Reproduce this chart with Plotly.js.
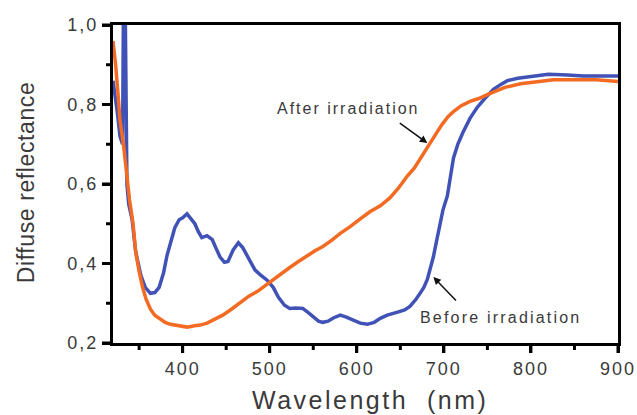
<!DOCTYPE html>
<html>
<head>
<meta charset="utf-8">
<script src="https://cdn.plot.ly/plotly-3.0.1.min.js"></script>
<style>
html,body{margin:0;padding:0;background:#fff;}
#wrap{position:relative;width:637px;height:415px;}
#chart{width:637px;height:415px;}
#frame{position:absolute;left:0;top:0;width:637px;height:415px;pointer-events:none;}
#chart .xtick text,#chart .ytick text{letter-spacing:2px;}
#chart .js-line{stroke-width:3.5px !important;}
</style>
</head>
<body>
<div id="wrap"><div id="chart"></div><svg id="frame" xmlns="http://www.w3.org/2000/svg" width="637" height="415"></svg></div>
<script>
// Before irradiation (blue)
var beforeX = [320,322,325,328,331,332,334,336,338,342,346,352,357,363,368,373,378,382,386,391,396,400,405,410,414,418,422,428,434,438,443,448,452,458,464,469,474,479,483,490,497,504,510,517,523,530,538,545,550,556,561,567,573,581,588,596,604,612,620,627,635,646,655,661,668,673,677,681,685,688,691,694,699,704,708,711,716,722,730,738,747,757,765,773,785,803,820,842,860,880,900];
var beforeY = [0.86,0.83,0.78,0.72,0.70,1.05,1.05,0.60,0.55,0.51,0.43,0.37,0.34,0.325,0.327,0.34,0.376,0.42,0.45,0.49,0.51,0.515,0.525,0.51,0.50,0.48,0.465,0.47,0.46,0.44,0.416,0.403,0.405,0.434,0.452,0.44,0.42,0.40,0.384,0.37,0.358,0.34,0.315,0.295,0.287,0.288,0.287,0.275,0.265,0.255,0.252,0.255,0.263,0.27,0.265,0.258,0.25,0.247,0.252,0.262,0.27,0.277,0.283,0.292,0.31,0.326,0.34,0.36,0.39,0.417,0.45,0.48,0.535,0.57,0.62,0.665,0.70,0.73,0.765,0.792,0.815,0.838,0.85,0.86,0.866,0.872,0.876,0.874,0.872,0.872,0.872];
// After irradiation (orange)
var afterX = [320,323,326,328,332,336,339,343,346,350,354,358,363,368,374,380,386,393,400,405,412,420,428,436,446,456,466,476,486,495,504,514,523,533,543,552,561,571,581,592,604,615,627,638,648,658,666,673,680,686,692,698,705,711,720,730,740,750,760,770,788,805,826,850,875,900];
var afterY = [0.96,0.90,0.82,0.76,0.70,0.62,0.56,0.50,0.43,0.38,0.34,0.31,0.285,0.27,0.26,0.252,0.247,0.244,0.242,0.24,0.243,0.245,0.25,0.258,0.27,0.285,0.302,0.318,0.33,0.345,0.36,0.377,0.39,0.405,0.42,0.432,0.443,0.458,0.476,0.492,0.512,0.53,0.545,0.565,0.59,0.62,0.64,0.665,0.69,0.71,0.73,0.75,0.77,0.782,0.797,0.808,0.815,0.825,0.835,0.843,0.852,0.856,0.862,0.862,0.862,0.858];

var xTickVals = [400,500,600,700,800,900];
var xTickText = ['400','500','600','700','800','900'];
var xMinorVals = [350,450,550,650,750,850];
var yTickVals = [0.2,0.4,0.6,0.8,1.0];
var yTickText = ['0,2','0,4','0,6','0,8','1,0'];
var yMinorVals = [0.3,0.5,0.7,0.9];

var xTitle = 'Wavelength  (nm)';
var yTitle = 'Diffuse reflectance';
var labelAfter = 'After irradiation';
var labelBefore = 'Before irradiation';

function spaced(t, px){ return '<span style="letter-spacing:' + px + 'px">' + t.replace(/  /g,'&nbsp; ') + '</span>'; }

var textColor = '#3a3a3a';
var font = 'Liberation Sans, Arial, sans-serif';

var traces = [
  {x: beforeX, y: beforeY, mode: 'lines', name: labelBefore},
  {x: afterX, y: afterY, mode: 'lines', name: labelAfter}
];

var layout = {
  width: 637, height: 415,
  margin: {l: 113, r: 19, t: 25, b: 72},
  showlegend: false,
  colorway: ['#4152B6', '#F36A22'],
  font: {family: font, size: 18, color: textColor},
  xaxis: {
    range: [320, 900], tickvals: xTickVals, ticktext: xTickText,
    showgrid: false, zeroline: false,
    showline: true, linecolor: 'black', linewidth: 3, mirror: true,
    ticks: 'outside', ticklen: 7, tickwidth: 3, tickcolor: 'black'
  },
  yaxis: {
    range: [0.2, 1.0], tickvals: yTickVals, ticktext: yTickText,
    showgrid: false, zeroline: false,
    showline: true, linecolor: 'black', linewidth: 3, mirror: true,
    ticks: 'outside', ticklen: 8, tickwidth: 3, tickcolor: 'black'
  },
  annotations: [
    {xref: 'paper', yref: 'paper', x: 0.509, y: -0.179, xanchor: 'center', yanchor: 'middle',
     text: spaced(xTitle, 2.5), showarrow: false, font: {size: 25, color: textColor, family: font}},
    {xref: 'paper', yref: 'paper', x: -0.172, y: 0.503, xanchor: 'center', yanchor: 'middle', textangle: -90,
     text: spaced(yTitle, 0.6), showarrow: false, font: {size: 23, color: textColor, family: font}},
    {xref: 'x', yref: 'y', x: 590, y: 0.791, xanchor: 'center', yanchor: 'middle',
     text: spaced(labelAfter, 2), showarrow: false, font: {size: 16, color: textColor, family: font}},
    {xref: 'x', yref: 'y', x: 765, y: 0.265, xanchor: 'center', yanchor: 'middle',
     text: spaced(labelBefore, 2.2), showarrow: false, font: {size: 16, color: textColor, family: font}},
    {xref: 'x', yref: 'y', x: 681, y: 0.703, ax: -29, ay: -21, text: '', showarrow: true,
     arrowhead: 2, arrowsize: 1, arrowwidth: 1.5, arrowcolor: '#111'},
    {xref: 'x', yref: 'y', x: 688, y: 0.366, ax: 24, ay: 25, text: '', showarrow: true,
     arrowhead: 2, arrowsize: 1, arrowwidth: 1.5, arrowcolor: '#111'}
  ]
};

// Frame and tick marks redrawn with the axes' own scales (same geometry as Plotly's axis lines)
function drawFrame(gd){
  var svg = document.getElementById('frame');
  var NS = 'http://www.w3.org/2000/svg';
  var fl = gd._fullLayout, xa = fl.xaxis, ya = fl.yaxis;
  var L = xa._offset, R = xa._offset + xa._length, T = ya._offset, B = ya._offset + ya._length;
  var lw = 3, h = lw / 2;
  function line(x1, y1, x2, y2, w){
    var e = document.createElementNS(NS, 'line');
    e.setAttribute('x1', x1); e.setAttribute('y1', y1);
    e.setAttribute('x2', x2); e.setAttribute('y2', y2);
    e.setAttribute('stroke', '#000'); e.setAttribute('stroke-width', w);
    svg.appendChild(e);
  }
  line(L - lw, B + h, R + lw, B + h, lw);
  line(L - lw, T - h, R + lw, T - h, lw);
  line(L - h, T - lw, L - h, B + lw, lw);
  line(R + h, T - lw, R + h, B + lw, lw);
  xTickVals.forEach(function(v){ var px = L + xa.l2p(v); line(px, B + lw, px, B + lw + 7, 3); });
  xMinorVals.forEach(function(v){ var px = L + xa.l2p(v); line(px, B + lw, px, B + lw + 4, 3); });
  yTickVals.forEach(function(v){ var py = T + ya.l2p(v); line(L - lw, py, L - lw - 8, py, 3); });
  yMinorVals.forEach(function(v){ var py = T + ya.l2p(v); line(L - lw, py, L - lw - 4, py, 3); });
}

Plotly.newPlot('chart', traces, layout, {displayModeBar: false}).then(drawFrame);
</script>
</body>
</html>
